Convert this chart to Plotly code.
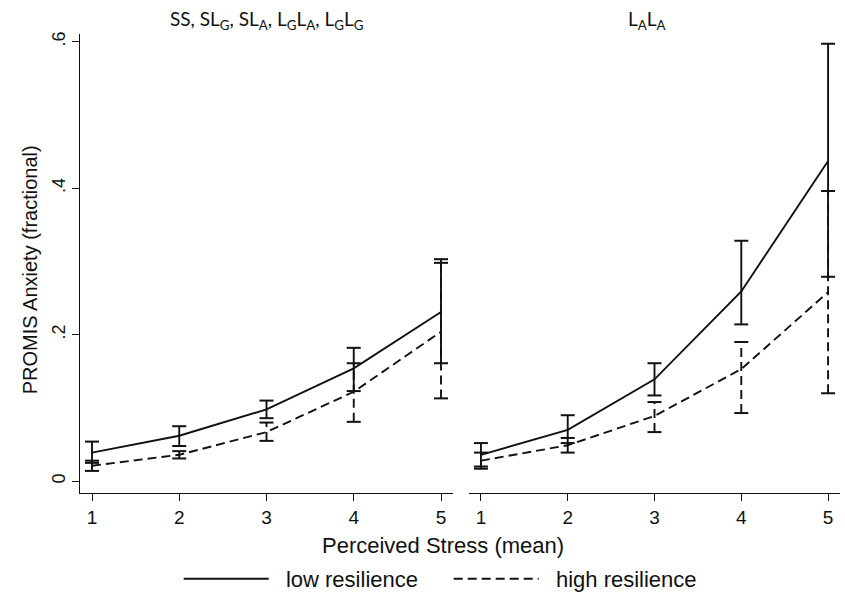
import plotly.graph_objects as go

# ---- data ----
stress = [1, 2, 3, 4, 5]

# Left panel: SS, SL_G, SL_A, L_GL_A, L_GL_G
low_mean_L = [0.039, 0.062, 0.098, 0.154, 0.231]
low_lo_L   = [0.025, 0.048, 0.086, 0.123, 0.161]
low_hi_L   = [0.054, 0.075, 0.110, 0.182, 0.303]
high_mean_L = [0.021, 0.036, 0.067, 0.122, 0.204]
high_lo_L   = [0.014, 0.031, 0.055, 0.081, 0.113]
high_hi_L   = [0.028, 0.041, 0.080, 0.161, 0.298]

# Right panel: L_AL_A
low_mean_R = [0.036, 0.070, 0.139, 0.259, 0.437]
low_lo_R   = [0.020, 0.052, 0.117, 0.214, 0.279]
low_hi_R   = [0.052, 0.090, 0.161, 0.328, 0.597]
high_mean_R = [0.028, 0.049, 0.089, 0.153, 0.258]
high_lo_R   = [0.017, 0.039, 0.067, 0.093, 0.120]
high_hi_R   = [0.039, 0.059, 0.108, 0.190, 0.396]

x_ticks = [1, 2, 3, 4, 5]
y_ticks = [0, 0.2, 0.4, 0.6]
y_tick_labels = ["0", ".2", ".4", ".6"]

panel_titles = ["SS, SL<sub>G</sub>, SL<sub>A</sub>, L<sub>G</sub>L<sub>A</sub>, L<sub>G</sub>L<sub>G</sub>",
                "L<sub>A</sub>L<sub>A</sub>"]
series_names = ["low resilience", "high resilience"]

AX_FONT = "Liberation Sans, Arial, sans-serif"
DASH = "9px,5px"
LW = 1.9
INK = "#111111"

fig = go.Figure()


def add_series(xa, ya, mean, lo, hi, name, dash, show):
    # CI segments
    ex, ey = [], []
    for xv, l, h in zip(stress, lo, hi):
        ex += [xv, xv, None]
        ey += [l, h, None]
    fig.add_trace(go.Scatter(x=ex, y=ey, mode="lines", xaxis=xa, yaxis=ya,
                             line=dict(color=INK, width=LW, dash=dash),
                             showlegend=False, hoverinfo="skip",
                             legendgroup=name))
    # caps
    fig.add_trace(go.Scatter(x=stress + stress, y=lo + hi, mode="markers",
                             xaxis=xa, yaxis=ya,
                             marker=dict(symbol="line-ew", size=10,
                                         line=dict(color=INK, width=2)),
                             showlegend=False, hoverinfo="skip",
                             legendgroup=name))
    # mean line
    fig.add_trace(go.Scatter(x=stress, y=mean, mode="lines", xaxis=xa, yaxis=ya,
                             name="\u00a0\u00a0" + name, legendgroup=name, showlegend=show,
                             line=dict(color=INK, width=LW, dash=dash)))


add_series("x", "y", low_mean_L, low_lo_L, low_hi_L, series_names[0], "solid", True)
add_series("x", "y", high_mean_L, high_lo_L, high_hi_L, series_names[1], DASH, True)
add_series("x2", "y2", low_mean_R, low_lo_R, low_hi_R, series_names[0], "solid", False)
add_series("x2", "y2", high_mean_R, high_lo_R, high_hi_R, series_names[1], DASH, False)

W, H = 845, 600
xr = [0.8625, 5.1375]
yr = [-0.0162, 0.6108]
ydom = [1 - 496 / H, 1 - 32 / H]

xaxis_common = dict(range=xr, tickvals=x_ticks, ticks="outside", ticklen=7,
                    tickwidth=1.2, tickcolor=INK, showline=True, linecolor=INK,
                    linewidth=1.2, showgrid=False, zeroline=False,
                    tickfont=dict(family=AX_FONT, size=19, color=INK),
                    fixedrange=True)

fig.update_layout(
    width=W, height=H,
    margin=dict(l=0, r=0, t=0, b=0),
    paper_bgcolor="white", plot_bgcolor="white",
    xaxis=dict(xaxis_common, domain=[80 / W, 453 / W], anchor="y"),
    xaxis2=dict(xaxis_common, domain=[469 / W, 840 / W], anchor="y2"),
    yaxis=dict(domain=ydom, range=yr, tickvals=y_ticks, ticktext=y_tick_labels,
               ticks="outside", ticklen=7, tickwidth=1.2, tickcolor=INK,
               showline=True, linecolor=INK, linewidth=1.2, showgrid=False,
               zeroline=False, tickangle=-90,
               tickfont=dict(family=AX_FONT, size=18, color=INK), anchor="x"),
    yaxis2=dict(domain=ydom, range=yr, matches="y", showticklabels=False,
                ticks="", showline=False, showgrid=False, zeroline=False,
                anchor="x2"),
    legend=dict(orientation="h", x=0.531, y=1 - 583 / H, xanchor="center",
                yanchor="middle", font=dict(family=AX_FONT, size=22, color=INK),
                itemwidth=85, entrywidth=170, bgcolor="rgba(0,0,0,0)"),
    showlegend=True,
)

annos = [
    dict(text=panel_titles[0], x=(80 + 453) / 2 / W, y=1 - 18 / H),
    dict(text=panel_titles[1], x=(469 + 840) / 2 / W - 0.009, y=1 - 18 / H),
]
for a in annos:
    fig.add_annotation(xref="paper", yref="paper", showarrow=False,
                       xanchor="center", yanchor="middle",
                       font=dict(family="Lato, Open Sans, sans-serif", size=19, color=INK),
                       **a)

fig.add_annotation(text="Perceived Stress (mean)", xref="paper", yref="paper",
                   x=443 / W, y=1 - 549 / H, showarrow=False, xanchor="center",
                   yanchor="middle", font=dict(family=AX_FONT, size=22, color=INK))
fig.add_annotation(text="PROMIS Anxiety (fractional)", xref="paper", yref="paper",
                   x=30 / W, y=1 - 271 / H, showarrow=False, xanchor="center",
                   yanchor="middle", textangle=-90,
                   font=dict(family=AX_FONT, size=20, color=INK))

fig.write_html("out.html")
